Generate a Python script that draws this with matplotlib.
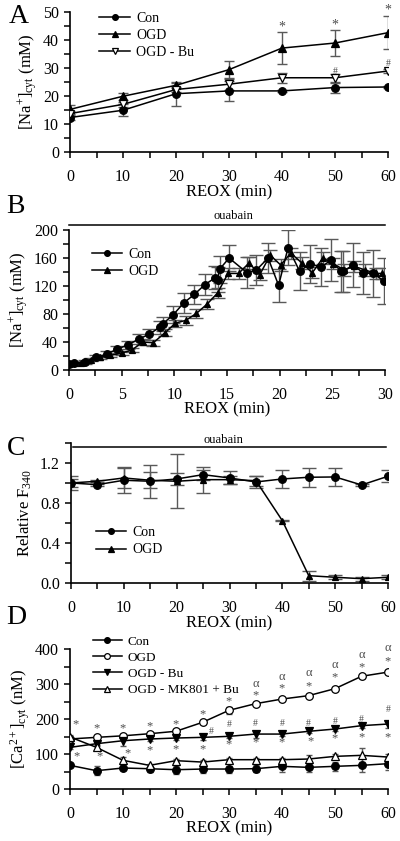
import numpy as np
import matplotlib
matplotlib.use('Agg')
import matplotlib.pyplot as plt
import matplotlib.ticker as ticker

''' Panel A data: [Na+]cyt during reoxygenation '''
a_time = [0, 10, 20, 30, 40, 50, 60]
a_con = [12.3, 14.9, 20.8, 21.8, 21.8, 23.0, 23.2]
a_con_err = [1.0, 2.2, 4.3, 3.5, 0.5, 1.8, 0.5]
a_ogd = [15.2, 19.9, 23.8, 29.4, 37.1, 38.9, 42.6]
a_ogd_err = [1.7, 1.3, 1.0, 3.1, 5.8, 4.6, 6.0]
a_bu = [13.7, 17.0, 22.3, 24.2, 26.5, 26.5, 28.9]
a_bu_err = [1.0, 1.0, 1.0, 2.0, 1.7, 1.5, 0.8]
a_star_x = [40, 50, 60]
a_star_y = [44.6, 45.2, 50.6]
a_hash_x = [50, 60]
a_hash_y = [28.6, 31.5]

''' Panel B data: [Na+]cyt with ouabain '''
b_con_t = [0, 0.5, 1.5, 2.6, 3.6, 4.6, 5.6, 6.6, 7.6, 8.6, 8.9, 9.9, 10.9, 11.9,
           12.9, 13.9, 14.1, 14.3, 15.2, 16.9, 17.8, 18.9, 19.9, 20.8, 21.9, 22.9,
           23.9, 24.9, 25.8, 26.0, 27.0, 27.9, 28.9, 29.9]
b_con = [8.6, 10, 12, 18, 23, 30, 36, 44, 51, 61, 66, 79, 96, 108,
         122, 132, 129, 144, 160, 139, 143, 160, 121, 175, 141, 152,
         147, 157, 141, 141, 150, 139, 138, 127]
b_con_err = [2, 2, 3, 3, 4, 5, 6, 7, 8, 9, 10, 12, 14, 14,
             15, 16, 18, 19, 19, 22, 22, 22, 24, 25, 27, 27,
             27, 30, 29, 29, 31, 30, 33, 33]
b_ogd_t = [0, 0.6, 1.1, 2.1, 2.9, 3.9, 5.0, 6.0, 7.0, 8.0, 9.1, 10.1, 11.1, 12.1,
           13.1, 14.1, 15.1, 16.1, 17.1, 18.1, 19.1, 20.1, 21.05, 22.1, 23.1, 24.1,
           25.1, 26.1, 27.1, 28.1, 29.1, 29.7]
b_ogd = [9, 9.5, 10, 15, 18, 21, 24, 29, 40, 39, 53, 67, 71, 81,
         94, 110, 138, 138, 153, 136, 164, 150, 167, 153, 139, 160,
         152, 143, 148, 143, 138, 138]
b_ogd_err = [1, 1, 1, 2, 2, 2, 3, 3, 4, 4, 5, 5, 6, 6,
             7, 7, 8, 8, 8, 8, 8, 8, 8, 8, 8, 8,
             8, 8, 8, 8, 8, 8]

''' Panel C data: relative F340 '''
c_time = [0, 5, 10, 15, 20, 25, 30, 35, 40, 45, 50, 55, 60]
c_con = [1.0, 0.983, 1.027, 1.017, 1.04, 1.083, 1.05, 1.01, 1.04, 1.057, 1.06, 0.98, 1.067]
c_con_err = [0.067, 0.01, 0.13, 0.167, 0.06, 0.05, 0.065, 0.06, 0.09, 0.095, 0.09, 0.01, 0.06]
c_ogd = [1.0, 1.017, 1.05, 1.027, 1.017, 1.033, 1.033, 1.023, 0.623, 0.073, 0.057, 0.043, 0.057]
c_ogd_err = [0.04, 0.01, 0.1, 0.08, 0.27, 0.13, 0.04, 0.05, 0.003, 0.05, 0.02, 0.02, 0.02]

''' Panel D data: [Ca2+]cyt '''
d_time = [0, 5, 10, 15, 20, 25, 30, 35, 40, 45, 50, 55, 60]
d_con = [67.6, 52.4, 60, 58, 55.2, 57.1, 57.1, 58, 64.8, 61.9, 64.8, 67.6, 72.4]
d_con_err = [3, 12, 5, 8, 12, 10, 10, 10, 15, 12, 12, 20, 18]
d_ogd = [143, 147.6, 152, 158, 165, 190.5, 224.8, 243.8, 257, 266.7, 286.7, 322, 334]
d_ogd_err = [4, 4, 4, 4, 4, 5, 10, 5, 6, 4, 6, 5, 6]
d_bu = [119, 129.5, 138, 142.9, 145.7, 147.6, 150.5, 157, 157, 164.8, 171.4, 181, 185.7]
d_bu_err = [5, 5, 15, 6, 6, 8, 6, 10, 6, 6, 6, 6, 10]
d_mk = [148.6, 119, 82, 67.6, 81, 77, 83.8, 83.8, 83.8, 85.7, 93.3, 96.2, 91.4]
d_mk_err = [5, 5, 10, 4, 5, 5, 5, 5, 5, 12, 8, 20, 8]
d_star_hi_x = [1, 5, 10, 15, 20, 25, 30, 35, 40, 45, 50, 55, 60]
d_star_hi_y = [186, 172, 172, 179, 185, 213, 250, 269, 287, 293, 318, 348, 366]
d_alpha_x = [35, 40, 45, 50, 55, 60]
d_alpha_y = [301, 320, 332, 354, 383, 402]
d_star_lo_x = [1.2, 5.6, 10.8, 15, 20, 25, 30, 35, 40, 45.3, 50, 55, 60]
d_star_lo_y = [93, 93, 103, 111, 114, 114, 128, 133, 133, 135, 145, 149, 149]
d_hash_x = [26.7, 30, 35, 40, 45, 50, 55, 60]
d_hash_y = [165, 183, 188, 188, 188, 193, 200, 228]


''' general plot configurations '''
plt.rcParams['font.family'] = ['Liberation Serif', 'DejaVu Serif']
plt.rcParams['mathtext.fontset'] = 'custom'
plt.rcParams['mathtext.rm'] = 'Liberation Serif'
plt.rcParams['mathtext.it'] = 'Liberation Serif:italic'
plt.rcParams['font.size'] = 11
plt.rcParams['xtick.direction'] = 'out'
plt.rcParams['ytick.direction'] = 'out'

fig = plt.figure(figsize=(4.0, 8.41), dpi=100)

TICK_FS = 11.5
LABEL_FS = 12
LEG_FS = 10
ERR_COLOR = '0.35'


def style_axis(ax):
    ax.spines['top'].set_visible(False)
    ax.spines['right'].set_visible(False)
    ax.spines['left'].set_linewidth(1.2)
    ax.spines['bottom'].set_linewidth(1.2)
    ax.tick_params(which='major', length=4, width=1.1, labelsize=TICK_FS, pad=4)
    ax.tick_params(which='minor', length=4, width=1.1)
    ax.tick_params(axis='x', which='major', pad=8)


def series(ax, x, y, err, marker, filled, label, ms=5.5, capsize=3.5):
    ax.errorbar(x, y, yerr=err, fmt='none', ecolor=ERR_COLOR, elinewidth=1,
                capsize=capsize, capthick=1, zorder=2)
    ax.plot(x, y, color='black', lw=1.1, marker=marker, markersize=ms,
            markerfacecolor='black' if filled else 'white',
            markeredgecolor='black', markeredgewidth=0.9, label=label, zorder=3)


def legend(ax, loc, bbox, fs=LEG_FS):
    leg = ax.legend(loc=loc, bbox_to_anchor=bbox, frameon=False, fontsize=fs,
                    handlelength=2.2, handletextpad=0.45, labelspacing=0.3,
                    borderaxespad=0, markerscale=0.75)
    return leg


def marks(ax, xs, ys, s, fs):
    for x, y in zip(xs, ys):
        ax.text(x, y, s, ha='center', va='center', fontsize=fs, color='0.3', clip_on=False)


''' Panel A '''
axA = fig.add_axes([0.175, 0.8193, 0.795, 0.1665])
series(axA, a_time, a_con, a_con_err, 'o', True, 'Con')
series(axA, a_time, a_ogd, a_ogd_err, '^', True, 'OGD')
series(axA, a_time, a_bu, a_bu_err, 'v', False, 'OGD - Bu')
axA.set_xlim(0, 60)
axA.set_ylim(0, 50)
axA.xaxis.set_major_locator(ticker.MultipleLocator(10))
axA.xaxis.set_minor_locator(ticker.MultipleLocator(5))
axA.yaxis.set_major_locator(ticker.MultipleLocator(10))
axA.yaxis.set_minor_locator(ticker.MultipleLocator(5))
style_axis(axA)
axA.set_xlabel('REOX (min)', fontsize=LABEL_FS, labelpad=0)
axA.set_ylabel('[Na$^{+}$]$_{\\rm cyt}$ (mM)', fontsize=LABEL_FS, labelpad=2)
marks(axA, a_star_x, a_star_y, '*', 10)
marks(axA, a_hash_x, a_hash_y, '#', 7)
legend(axA, 'upper left', (0.075, 1.04))

''' Panel B '''
axB = fig.add_axes([0.1725, 0.560, 0.79, 0.1665])
series(axB, b_con_t, b_con, b_con_err, 'o', True, 'Con', ms=5.5, capsize=5)
series(axB, b_ogd_t, b_ogd, b_ogd_err, '^', True, 'OGD', ms=5, capsize=5)
axB.set_xlim(0, 30)
axB.set_ylim(0, 200)
axB.xaxis.set_major_locator(ticker.MultipleLocator(5))
axB.xaxis.set_minor_locator(ticker.MultipleLocator(2.5))
axB.yaxis.set_major_locator(ticker.MultipleLocator(40))
axB.yaxis.set_minor_locator(ticker.MultipleLocator(20))
style_axis(axB)
axB.set_xlabel('REOX (min)', fontsize=LABEL_FS, labelpad=-1)
axB.set_ylabel('[Na$^{+}$]$_{\\rm cyt}$ (mM)', fontsize=LABEL_FS, labelpad=2)
axB.plot([0, 1], [1.036, 1.036], transform=axB.transAxes, color='black', lw=1.1, clip_on=False)
axB.text(0.52, 1.06, 'ouabain', transform=axB.transAxes, ha='center', va='bottom', fontsize=9)
legend(axB, 'upper left', (0.055, 0.91))

''' Panel C '''
axC = fig.add_axes([0.1775, 0.3068, 0.7925, 0.1665])
series(axC, c_time, c_con, c_con_err, 'o', True, 'Con', capsize=5)
series(axC, c_time, c_ogd, c_ogd_err, '^', True, 'OGD', ms=5, capsize=5)
axC.set_xlim(0, 60)
axC.set_ylim(0, 1.4)
axC.xaxis.set_major_locator(ticker.MultipleLocator(10))
axC.xaxis.set_minor_locator(ticker.MultipleLocator(5))
axC.yaxis.set_major_locator(ticker.FixedLocator([0.0, 0.4, 0.8, 1.2]))
axC.yaxis.set_minor_locator(ticker.MultipleLocator(0.2))
axC.yaxis.set_major_formatter(ticker.FormatStrFormatter('%.1f'))
style_axis(axC)
axC.set_xlabel('REOX (min)', fontsize=LABEL_FS, labelpad=0)
axC.set_ylabel('Relative F$_{340}$', fontsize=LABEL_FS, labelpad=4)
axC.plot([0.005, 0.995], [0.972, 0.972], transform=axC.transAxes, color='black', lw=1.1, clip_on=False)
axC.text(0.48, 0.98, 'ouabain', transform=axC.transAxes, ha='center', va='bottom', fontsize=9)
legend(axC, 'upper left', (0.06, 0.445))

''' Panel D '''
axD = fig.add_axes([0.175, 0.0618, 0.795, 0.1665])
series(axD, d_time, d_con, d_con_err, 'o', True, 'Con', ms=5.5, capsize=2.5)
series(axD, d_time, d_ogd, d_ogd_err, 'o', False, 'OGD', ms=5.5, capsize=2.5)
series(axD, d_time, d_bu, d_bu_err, 'v', True, 'OGD - Bu', ms=5.5, capsize=2.5)
series(axD, d_time, d_mk, d_mk_err, '^', False, 'OGD - MK801 + Bu', ms=5.5, capsize=2.5)
axD.set_xlim(0, 60)
axD.set_ylim(0, 400)
axD.xaxis.set_major_locator(ticker.MultipleLocator(10))
axD.xaxis.set_minor_locator(ticker.MultipleLocator(5))
axD.yaxis.set_major_locator(ticker.MultipleLocator(100))
axD.yaxis.set_minor_locator(ticker.MultipleLocator(50))
style_axis(axD)
axD.set_xlabel('REOX (min)', fontsize=LABEL_FS, labelpad=-1)
axD.set_ylabel('[Ca$^{2+}$]$_{\\rm cyt}$ (nM)', fontsize=LABEL_FS, labelpad=2)
marks(axD, d_star_hi_x, d_star_hi_y, '*', 9)
marks(axD, d_alpha_x, d_alpha_y, '\u03b1', 9)
marks(axD, d_star_lo_x, d_star_lo_y, '*', 9)
marks(axD, d_hash_x, d_hash_y, '#', 7)
legend(axD, 'upper left', (0.055, 1.135), fs=9.5)

''' panel letters '''
for letter, (px, py) in zip('ABCD', [(9, 23), (6, 213), (7, 455), (6, 624)]):
    fig.text(px / 400, 1 - py / 841, letter, fontsize=20, ha='left', va='baseline')

plt.savefig('out.png', dpi=100)
